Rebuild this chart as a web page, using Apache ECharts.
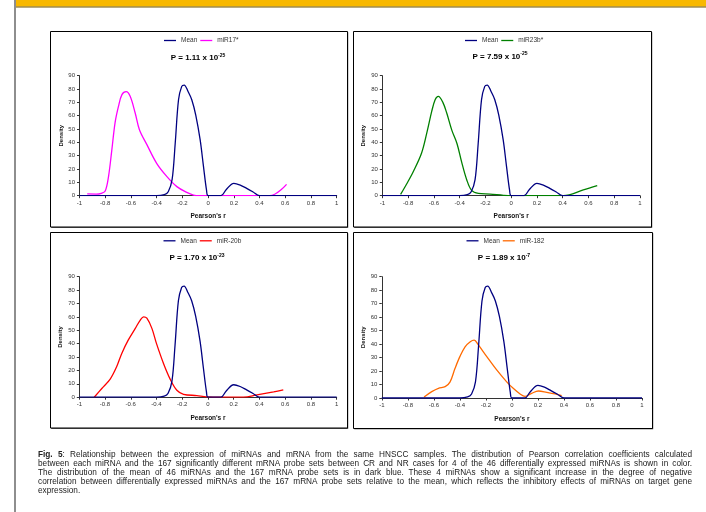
<!DOCTYPE html>
<html><head><meta charset="utf-8">
<script src="https://cdn.jsdelivr.net/npm/echarts@6/dist/echarts.min.js"></script>
<style>
html,body{margin:0;padding:0;background:#fff;}
#chart{position:absolute;left:0;top:0;width:706px;height:512px;}
#caption{position:absolute;left:38px;top:450px;width:654px;font-family:"Liberation Sans",Arial,sans-serif;font-size:8.25px;line-height:9.1px;color:#222;}
#caption div{text-align:justify;text-align-last:justify;white-space:nowrap;}
#caption div.last{text-align-last:left;}
</style></head>
<body>
<div id="chart"></div>
<div id="caption">
<div><b>Fig. 5</b>: Relationship between the expression of miRNAs and mRNA from the same HNSCC samples. The distribution of Pearson correlation coefficients calculated</div>
<div>between each miRNA and the 167 significantly different mRNA probe sets between CR and NR cases for 4 of the 46 differentially expressed miRNAs is shown in color.</div>
<div>The distribution of the mean of 46 miRNAs and the 167 mRNA probe sets is in dark blue. These 4 miRNAs show a significant increase in the degree of negative</div>
<div>correlation between differentially expressed miRNAs and the 167 mRNA probe sets relative to the mean, which reflects the inhibitory effects of miRNAs on target gene</div>
<div class="last">expression.</div>
</div>
<script>
// ---- data ----
const rAxis = [-1, 1, 0.2];          // Pearson's r axis: min, max, step
const densityAxis = [0, 90, 10];     // Density axis: min, max, step

const meanR = [-1, -0.4, -0.34, -0.31, -0.28, -0.256, -0.23, -0.205, -0.186, -0.155, -0.127, -0.096, -0.062, -0.036, -0.012, 0, 0.1, 0.14, 0.2, 0.25, 0.3, 0.35, 0.4, 1];
const meanD = [0, 0, 0.8, 3, 12, 39, 72, 82, 83, 78, 72, 60.5, 42, 22, 4, 0, 0, 4.5, 9.3, 8, 5.5, 2.8, 0, 0];

const mir17R = [-0.94, -0.87, -0.83, -0.80, -0.775, -0.749, -0.723, -0.697, -0.67, -0.637, -0.606, -0.567, -0.534, -0.476, -0.4, -0.32, -0.243, -0.166, -0.114, -0.07, 0.48, 0.61];
const mir17D = [1.3, 1.2, 1.8, 3.5, 14, 34, 55, 67, 75.8, 78, 74.5, 62, 49.5, 38.3, 24.3, 14.3, 6.8, 2.5, 0.5, 0, 0, 8.5];

const mir23bR = [-0.858, -0.81, -0.76, -0.695, -0.65, -0.617, -0.59, -0.565, -0.53, -0.5, -0.46, -0.42, -0.385, -0.345, -0.307, -0.255, -0.164, -0.06, 0.0, 0.405, 0.56, 0.668];
const mir23bD = [1, 9, 18, 32, 49, 63, 72, 74.5, 70, 62, 49, 39, 25.5, 12, 4, 1.7, 1.2, 0.3, 0, 0, 4.3, 7.5];

const mir20bR = [-0.884, -0.825, -0.76, -0.71, -0.67, -0.62, -0.565, -0.526, -0.5, -0.475, -0.436, -0.4, -0.345, -0.294, -0.242, -0.19, -0.087, -0.01, 0.094, 0.275, 0.38, 0.51, 0.585];
const mir20bD = [0, 6.5, 13.5, 22.7, 32.7, 42.6, 51.4, 57.6, 60, 59, 51.4, 40, 25, 13.5, 5.2, 2.2, 1.2, 0.3, 0, 0, 1.7, 4, 5.5];

const mir182R = [-0.675, -0.616, -0.565, -0.513, -0.475, -0.437, -0.4, -0.36, -0.32, -0.29, -0.258, -0.193, -0.117, -0.04, 0.01, 0.063, 0.1, 0.152, 0.204, 0.268, 0.332, 0.383];
const mir182D = [0.7, 4.7, 7.2, 8.4, 12, 22, 30.7, 38, 41.8, 43, 39.4, 30.7, 20.8, 12, 7.2, 3, 1.2, 3.5, 5.2, 4.2, 3, 1.7];

const mirNames = ['miR17*', 'miR23b*', 'miR-20b', 'miR-182'];
const pMantissa = ['1.11', '7.59', '1.70', '1.89'];
const pExponent = ['-25', '-25', '-23', '-7'];
const mirR = [mir17R, mir23bR, mir20bR, mir182R];
const mirD = [mir17D, mir23bD, mir20bD, mir182D];

// ---- styling / layout ----
const FONT = '"Liberation Sans", Arial, sans-serif';
const mirColors = ['#FF00FF', '#008000', '#FF0000', '#FF6A00'];
const meanColor = '#000080';
const grids = [
  {left: 79.5, top: 75.7, width: 257.2, height: 120},
  {left: 382.3, top: 75.7, width: 257.7, height: 120},
  {left: 79.3, top: 276.7, width: 257.4, height: 120.5},
  {left: 381.8, top: 276.7, width: 260.2, height: 121.3}
];
const boxes = [
  {x: 50, y: 31, w: 297, h: 195.5},
  {x: 353, y: 31, w: 298, h: 195.5},
  {x: 50, y: 232, w: 297, h: 195.5},
  {x: 353, y: 232, w: 299, h: 196}
];
const legendPos = [{left: 164, top: 36.5}, {left: 465, top: 36.5}, {left: 163.5, top: 236.8}, {left: 466.5, top: 236.8}];
const titlePos = [[198, 57.7], [500, 56.5], [197, 257.7], [504, 257.7]];

function pairs(xs, ys) { return xs.map((x, i) => [x, ys[i]]); }

const chart = echarts.init(document.getElementById('chart'), null, {renderer: 'canvas'});

const graphic = [
  {type: 'rect', shape: {x: 14, y: 0, width: 2, height: 512}, style: {fill: '#8e8e8e'}, silent: true, z: -10},
  {type: 'rect', shape: {x: 16, y: 0, width: 690, height: 6.5}, style: {fill: '#F8B800'}, silent: true, z: -10},
  {type: 'rect', shape: {x: 16, y: 6.5, width: 690, height: 1}, style: {fill: '#6e5400'}, silent: true, z: -10}
];
boxes.forEach(b => {
  graphic.push({type: 'rect', shape: {x: b.x + 1.2, y: b.y + 1.2, width: b.w, height: b.h}, style: {fill: '#2a2a2a'}, silent: true, z: -9});
  graphic.push({type: 'rect', shape: {x: b.x + 0.5, y: b.y + 0.5, width: b.w, height: b.h}, style: {fill: '#fff', stroke: '#000', lineWidth: 1}, silent: true, z: -8});
});
titlePos.forEach((p, i) => {
  graphic.push({
    type: 'text', x: p[0], y: p[1], silent: true, z: 5,
    style: {
      text: '{m|P = ' + pMantissa[i] + ' x 10}{s|' + pExponent[i] + '}',
      align: 'center', verticalAlign: 'middle', fill: '#000',
      rich: {
        m: {fontFamily: FONT, fontWeight: 'bold', fontSize: 8, lineHeight: 10, fill: '#000'},
        s: {fontFamily: FONT, fontWeight: 'bold', fontSize: 5, lineHeight: 5, verticalAlign: 'top', fill: '#000'}
      }
    }
  });
});

const xAxes = [], yAxes = [], series = [], legends = [];
grids.forEach((g, i) => {
  xAxes.push({
    type: 'value', gridIndex: i, min: rAxis[0], max: rAxis[1], interval: rAxis[2],
    name: "Pearson's r", nameLocation: 'middle', nameGap: 17.5,
    nameTextStyle: {fontFamily: FONT, fontWeight: 'bold', fontSize: 6.5, color: '#111'},
    axisLine: {onZero: false, lineStyle: {color: '#333', width: 1}},
    axisTick: {show: true, length: 2.5, lineStyle: {color: '#333'}},
    axisLabel: {fontFamily: FONT, fontSize: 6, color: '#333', margin: 4.5},
    splitLine: {show: false}
  });
  yAxes.push({
    type: 'value', gridIndex: i, min: densityAxis[0], max: densityAxis[1], interval: densityAxis[2],
    name: 'Density', nameLocation: 'middle', nameGap: 15.5,
    nameTextStyle: {fontFamily: FONT, fontWeight: 'bold', fontSize: 6, color: '#111'},
    axisLine: {show: true, onZero: false, lineStyle: {color: '#333', width: 1}},
    axisTick: {show: true, length: 2.5, lineStyle: {color: '#333'}},
    axisLabel: {fontFamily: FONT, fontSize: 6, color: '#333', margin: 4.5},
    splitLine: {show: false}
  });
  series.push({
    type: 'line', name: mirNames[i], xAxisIndex: i, yAxisIndex: i,
    data: pairs(mirR[i], mirD[i]), smooth: 0.35, symbol: 'none',
    lineStyle: {color: mirColors[i], width: 1.3}, itemStyle: {color: mirColors[i]}, z: 2, animation: false
  });
  series.push({
    type: 'line', name: 'Mean', xAxisIndex: i, yAxisIndex: i,
    data: pairs(meanR, meanD), smooth: 0.35, symbol: 'none',
    lineStyle: {color: meanColor, width: 1.3}, itemStyle: {color: meanColor}, z: 3, animation: false
  });
  legends.push({
    data: ['Mean', mirNames[i]], left: legendPos[i].left, top: legendPos[i].top,
    orient: 'horizontal', icon: 'rect', itemWidth: 12, itemHeight: 1.3, itemGap: 3, padding: 0,
    selectedMode: false,
    textStyle: {fontFamily: FONT, fontSize: 6.5, color: '#333', lineHeight: 8}
  });
});

chart.setOption({
  animation: false,
  backgroundColor: '#fff',
  grid: grids,
  xAxis: xAxes,
  yAxis: yAxes,
  legend: legends,
  series: series,
  graphic: graphic
});
</script>
</body></html>
